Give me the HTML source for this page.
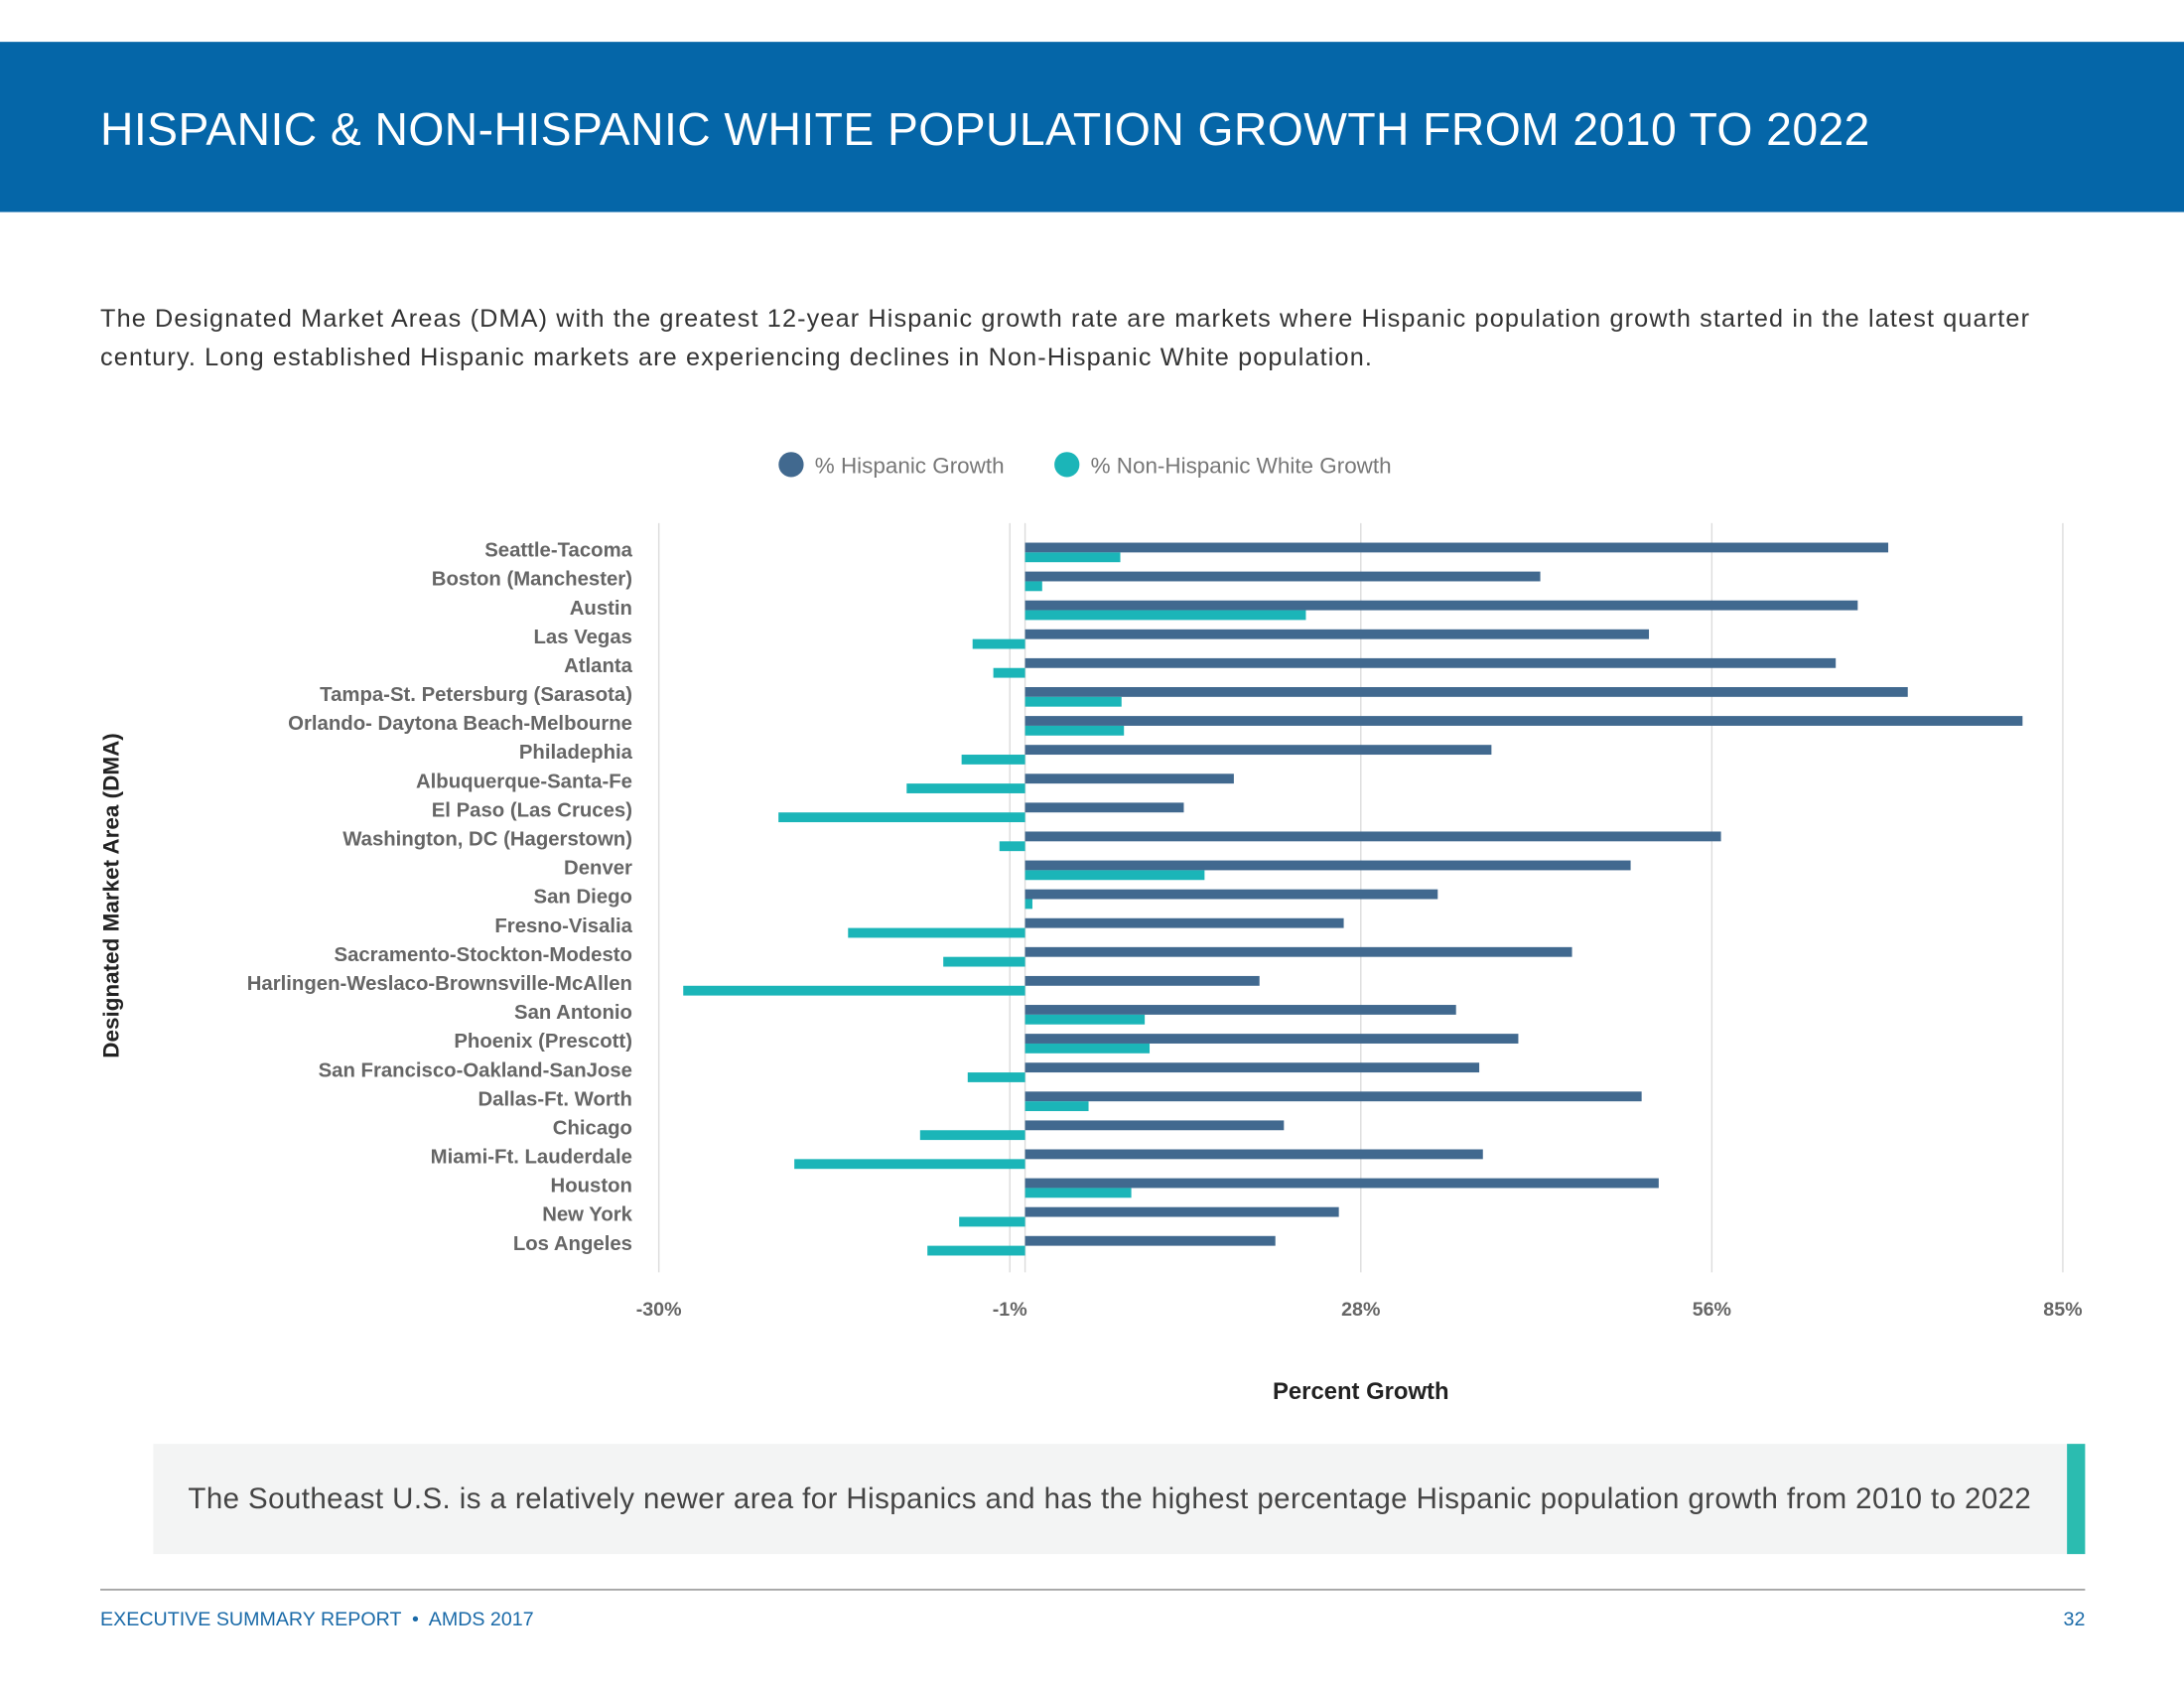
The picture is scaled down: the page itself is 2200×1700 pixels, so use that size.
<!DOCTYPE html>
<html><head><meta charset="utf-8">
<style>
html,body{margin:0;padding:0;background:#fff;}
body{width:2200px;height:1700px;overflow:hidden;position:relative;font-family:"Liberation Sans",sans-serif;}
#page{position:absolute;left:0;top:0;width:1568px;height:1210px;transform-origin:0 0;transform:scale(1.40306,1.40496);}
.hdr{position:absolute;left:0;top:30px;width:1568px;height:122px;background:#0566a8;}
.hdr h1{margin:0;position:absolute;left:72px;top:63px;transform:translateY(-50%);color:#fff;font-weight:normal;font-size:33px;letter-spacing:0.3px;white-space:nowrap;}
.para{position:absolute;left:72px;top:214px;width:1490px;font-size:18px;line-height:28px;color:#333;letter-spacing:0.8px;white-space:nowrap;}
.callout{position:absolute;left:110px;top:1035px;width:1387px;height:79px;background:#f3f4f4;}
.callout .bar{position:absolute;right:0;top:0;width:13px;height:79px;background:#2bbcb0;}
.callout p{margin:0;position:absolute;left:25px;top:40px;transform:translateY(-50%);font-size:21px;color:#444;letter-spacing:0.3px;white-space:nowrap;}
.fline{position:absolute;left:72px;top:1139px;width:1425px;height:1px;background:#888;}
.foot{position:absolute;top:1152px;font-size:14px;color:#1a6aa8;}
</style></head>
<body>
<div id="page">
<div class="hdr"><h1>HISPANIC &amp; NON-HISPANIC WHITE POPULATION GROWTH FROM 2010 TO 2022</h1></div>
<div class="para">The Designated Market Areas (DMA) with the greatest 12-year Hispanic growth rate are markets where Hispanic population growth started in the latest quarter<br>century. Long established Hispanic markets are experiencing declines in Non-Hispanic White population.</div>
<svg id="chart" style="position:absolute;left:0;top:300px" width="1568" height="730" viewBox="0 300 1568 730"></svg>
<div class="callout"><p>The Southeast U.S. is a relatively newer area for Hispanics and has the highest percentage Hispanic population growth from 2010 to 2022</p><div class="bar"></div></div>
<div class="fline"></div>
<div class="foot" style="left:72px">EXECUTIVE SUMMARY REPORT &nbsp;•&nbsp; AMDS 2017</div>
<div class="foot" style="left:1470px;width:27px;text-align:right">32</div>
</div>
<script>
const categories=["Seattle-Tacoma","Boston (Manchester)","Austin","Las Vegas","Atlanta","Tampa-St. Petersburg (Sarasota)","Orlando- Daytona Beach-Melbourne","Philadephia","Albuquerque-Santa-Fe","El Paso (Las Cruces)","Washington, DC (Hagerstown)","Denver","San Diego","Fresno-Visalia","Sacramento-Stockton-Modesto","Harlingen-Weslaco-Brownsville-McAllen","San Antonio","Phoenix (Prescott)","San Francisco-Oakland-SanJose","Dallas-Ft. Worth","Chicago","Miami-Ft. Lauderdale","Houston","New York","Los Angeles"];
const hispanicGrowth=[70.7,42.2,68.2,51.1,66.4,72.3,81.7,38.2,17.1,13.0,57.0,49.6,33.8,26.1,44.8,19.2,35.3,40.4,37.2,50.5,21.2,37.5,51.9,25.7,20.5];
const whiteGrowth=[7.8,1.4,23.0,-4.3,-2.6,7.9,8.1,-5.2,-9.7,-20.2,-2.1,14.7,0.6,-14.5,-6.7,-28.0,9.8,10.2,-4.7,5.2,-8.6,-18.9,8.7,-5.4,-8.0];
const tickValues=[-30,-1.25,27.5,56.25,85];
const tickLabels=["-30%","-1%","28%","56%","85%"];
const NS="http://www.w3.org/2000/svg";
const svg=document.getElementById('chart');
const xMin=-30,xMax=85,x0=473,x1=1481;
function xs(v){return x0+(v-xMin)/(xMax-xMin)*(x1-x0);}
const rowTop=394,rowStep=(891-394)/(categories.length-1);
function ys(i){return rowTop+i*rowStep;}
function mk(tag,attrs){const e=document.createElementNS(NS,tag);for(const k in attrs)e.setAttribute(k,attrs[k]);svg.appendChild(e);return e;}
tickValues.forEach((t,i)=>{
  const g=mk('line',{x1:xs(t),x2:xs(t),y1:375,y2:912,stroke:'#dcdcdc','stroke-width':1});
  
  
  const tl=mk('text',{x:xs(t),y:943,'text-anchor':'middle','font-size':14,'font-weight':'bold',fill:'#666'});
  tl.textContent=tickLabels[i];
  
  
});
const zl=mk('line',{x1:xs(0),x2:xs(0),y1:375,y2:912,stroke:'#dcdcdc','stroke-width':1});


categories.forEach((c,i)=>{
  const y=ys(i);
  const lb=mk('text',{x:454,y:y+5,'text-anchor':'end','font-size':14.5,'font-weight':'bold',fill:'#666'});
  lb.textContent=c;
  
  
  const h=hispanicGrowth[i];
  const hb=mk('rect',{x:Math.min(xs(0),xs(h)),y:y-5,width:Math.abs(xs(h)-xs(0)),height:7,fill:'#41698f'});
  
  
  const w=whiteGrowth[i];
  const wb=mk('rect',{x:Math.min(xs(0),xs(w)),y:y+2,width:Math.abs(xs(w)-xs(0)),height:7,fill:'#1bb5b8'});
  
  
});
const lg1=mk('circle',{cx:568,cy:333,r:9,fill:'#41698f'});


const lt1=mk('text',{x:585,y:339,'font-size':16,fill:'#777'});lt1.textContent='% Hispanic Growth';


const lg2=mk('circle',{cx:766,cy:333,r:9,fill:'#1bb5b8'});


const lt2=mk('text',{x:783,y:339,'font-size':16,fill:'#777'});lt2.textContent='% Non-Hispanic White Growth';


const xt=mk('text',{x:977,y:1003,'text-anchor':'middle','font-size':17,'font-weight':'bold',fill:'#222'});xt.textContent='Percent Growth';


const yt=mk('text',{x:0,y:0,'text-anchor':'middle','font-size':16,'font-weight':'bold',fill:'#222',transform:'translate(85,642) rotate(-90)'});yt.textContent='Designated Market Area (DMA)';


</script>
</body></html>
